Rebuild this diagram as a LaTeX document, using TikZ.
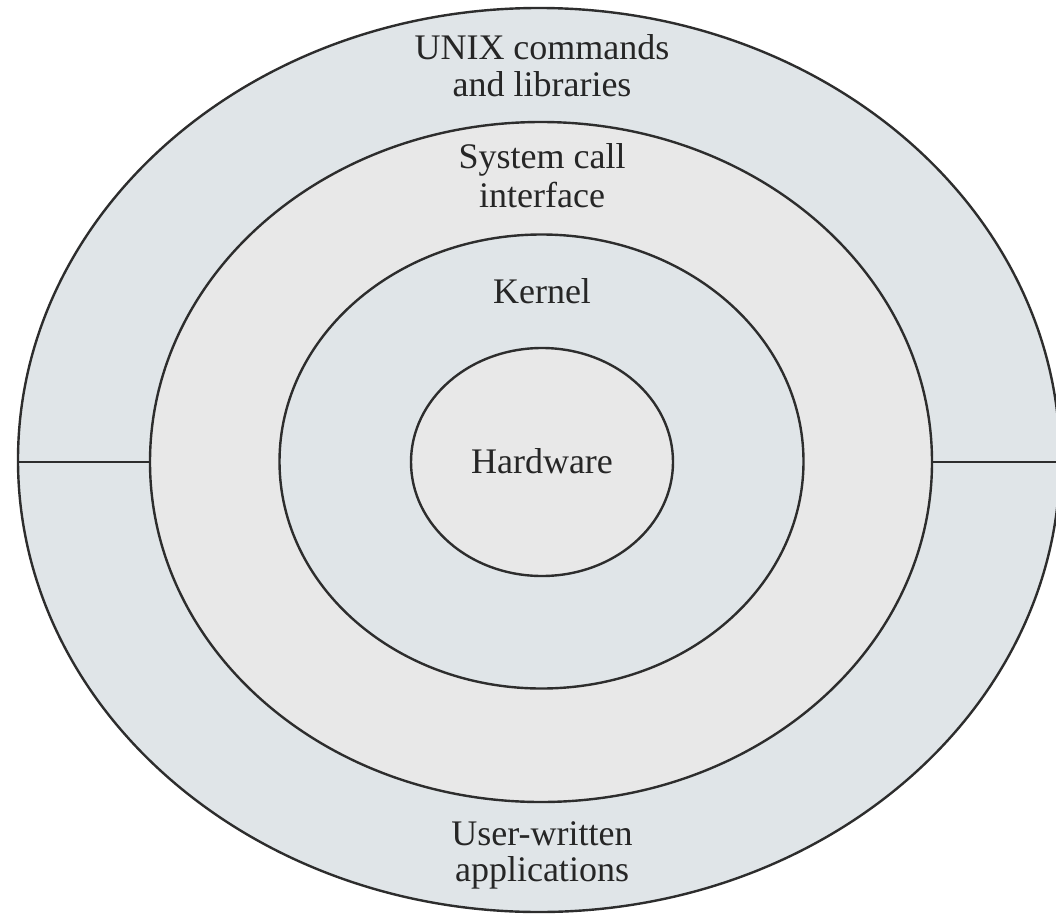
\documentclass[tikz,border=0pt]{standalone}
\usepackage{fontspec}
\setmainfont{Liberation Serif}
\usetikzlibrary{shapes.geometric}
\definecolor{ringblue}{RGB}{224,229,232}
\definecolor{ringgray}{RGB}{232,232,232}
\definecolor{edge}{RGB}{45,45,45}
\tikzset{
  ring/.style={ellipse, draw=edge, line width=2.4pt, inner sep=0pt, outer sep=0pt},
  lbl/.style={anchor=base, inner sep=0pt, text=black!85, font=\fontsize{36}{38}\selectfont},
  divider/.style={draw=edge, line width=2.6pt}
}
\begin{document}
\begin{tikzpicture}[x=1pt,y=-1pt]
\useasboundingbox (0,0) rectangle (1056,915);
\fill[white] (0,0) rectangle (1056,915);
\node[ring, fill=ringblue, minimum width=1042pt, minimum height=904pt] (outer) at (539,460) {};
\node[ring, fill=ringgray, minimum width=782pt, minimum height=680pt] (sys) at (541,462) {};
\node[ring, fill=ringblue, minimum width=524pt, minimum height=454pt] (kern) at (541.5,461.5) {};
\node[ring, fill=ringgray, minimum width=262pt, minimum height=228pt] (hw) at (542,462) {};
\draw[divider] (outer.west |- sys.west) -- (sys.west);
\draw[divider] (sys.east) -- (outer.east |- sys.east);
\node[lbl] (u1) at (542,60) {UNIX commands};
\node[lbl] (u2) at (542,97) {and libraries};
\node[lbl] (s1) at (542,168) {System call};
\node[lbl] (s2) at (542,207) {interface};
\node[lbl] (k1) at (542,303) {Kernel};
\node[lbl] (h1) at (542,473) {Hardware};
\node[lbl] (a1) at (542,845) {User-written};
\node[lbl] (a2) at (542,881) {applications};
\end{tikzpicture}
\end{document}
